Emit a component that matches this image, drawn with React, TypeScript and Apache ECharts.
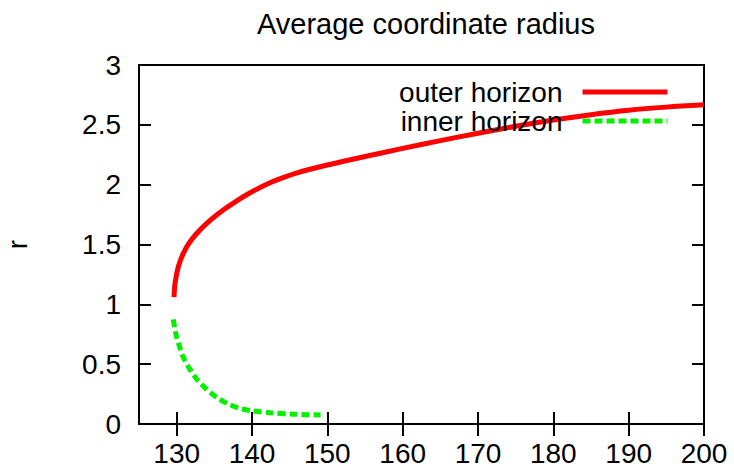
import React, { useEffect, useRef } from "react";
import * as echarts from "echarts";

const xTicks = [130, 140, 150, 160, 170, 180, 190, 200];

const outerX = [129.65, 129.78, 130.22, 130.88, 131.77, 132.87, 133.99, 135.3, 136.64, 137.97, 139.7, 141.95, 143.5, 146.2, 150, 155, 160, 165, 170, 175, 180, 185, 190, 195, 200];
const outerR = [1.06, 1.176, 1.314, 1.426, 1.523, 1.607, 1.677, 1.747, 1.808, 1.865, 1.93, 2.003, 2.044, 2.102, 2.164, 2.235, 2.303, 2.368, 2.43, 2.488, 2.54, 2.585, 2.622, 2.648, 2.667];

const innerX = [129.56, 129.87, 130.31, 130.88, 131.68, 132.66, 133.85, 135.3, 136.86, 138.4, 139.95, 142.4, 145.8, 149.1];
const innerR = [0.875, 0.758, 0.66, 0.557, 0.465, 0.376, 0.298, 0.223, 0.167, 0.131, 0.111, 0.094, 0.081, 0.075];

const FONT = "Liberation Sans";
const FS = 28;

export default function App() {
  const ref = useRef<HTMLDivElement>(null);
  useEffect(() => {
    if (!ref.current) return;
    const chart = echarts.init(ref.current, null, { renderer: "svg" });
    const tickCommon = { inside: true, length: 12, lineStyle: { color: "#000", width: 2 } };
    chart.setOption({
      animation: false,
      backgroundColor: "#fff",
      title: {
        text: "Average coordinate radius",
        left: 421,
        top: 4,
        textAlign: "center",
        textStyle: { fontFamily: FONT, fontSize: 29, fontWeight: "normal", color: "#000" },
      },
      legend: {
        orient: "vertical",
        right: 64,
        top: 78,
        padding: 0,
        align: "right",
        itemWidth: 85,
        itemHeight: 10,
        itemGap: 1,
        itemStyle: { opacity: 0 },
        lineStyle: { width: 5 },
        textStyle: { fontFamily: FONT, fontSize: FS, color: "#000", padding: [0, 15, 0, 0] },
        data: ["outer horizon", "inner horizon"],
      },
      grid: {
        left: 139,
        right: 30,
        top: 65,
        bottom: 43,
        outerBoundsMode: "none",
        containLabel: false,
        show: true,
        borderColor: "#000",
        borderWidth: 2,
        backgroundColor: "transparent",
      },
      xAxis: [
        {
          type: "value",
          min: 125,
          max: 200,
          axisLine: { show: false },
          splitLine: { show: false },
          axisTick: { ...tickCommon, customValues: xTicks },
          axisLabel: {
            customValues: xTicks,
            margin: 15,
            color: "#000",
            fontFamily: FONT,
            fontSize: FS,
          },
        },
        {
          type: "value",
          position: "top",
          min: 125,
          max: 200,
          axisLine: { show: false },
          splitLine: { show: false },
          axisTick: { ...tickCommon, customValues: xTicks },
          axisLabel: { show: false },
        },
      ],
      yAxis: [
        {
          type: "value",
          min: 0,
          max: 3,
          interval: 0.5,
          name: "r",
          nameLocation: "middle",
          nameRotate: 90,
          nameGap: 108,
          nameTextStyle: { fontFamily: FONT, fontSize: FS, color: "#000" },
          axisLine: { show: false },
          splitLine: { show: false },
          axisTick: tickCommon,
          axisLabel: { margin: 18, color: "#000", fontFamily: FONT, fontSize: FS },
        },
        {
          type: "value",
          position: "right",
          min: 0,
          max: 3,
          interval: 0.5,
          axisLine: { show: false },
          splitLine: { show: false },
          axisTick: tickCommon,
          axisLabel: { show: false },
        },
      ],
      series: [
        {
          name: "outer horizon",
          type: "line",
          symbol: "none",
          smooth: 0.3,
          color: "#ff0000",
          lineStyle: { color: "#ff0000", width: 5 },
          data: outerX.map((x, i) => [x, outerR[i]]),
        },
        {
          name: "inner horizon",
          type: "line",
          symbol: "none",
          smooth: 0.3,
          color: "#00f000",
          lineStyle: { color: "#00f000", width: 5, type: [8, 4] },
          data: innerX.map((x, i) => [x, innerR[i]]),
        },
      ],
    });
    return () => chart.dispose();
  }, []);
  return (
    <div
      ref={ref}
      style={{ position: "fixed", left: 0, top: 0, width: 734, height: 467, background: "#fff" }}
    />
  );
}
